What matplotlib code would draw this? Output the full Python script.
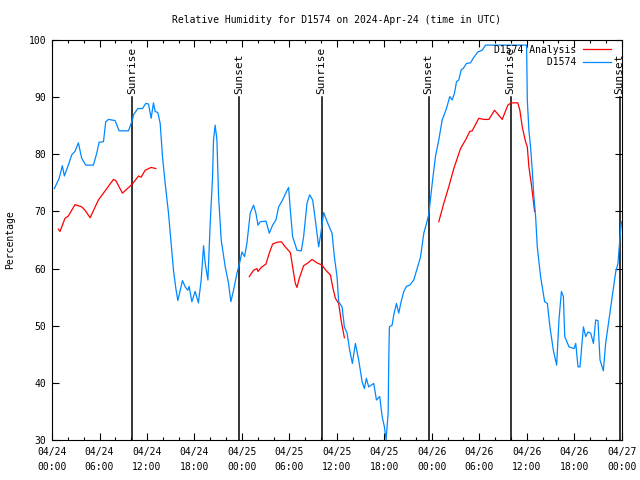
import numpy as np
import matplotlib
matplotlib.use("Agg")
import matplotlib.pyplot as plt

# hours since 2024-04-24 00:00 UTC
obs_hours = [0.3, 0.9, 1.3, 1.56, 2.06, 2.49, 2.9, 3.33, 3.75, 4.26, 5.23, 5.65, 5.95, 6.5,
             6.79, 7.13, 7.97, 8.48, 9.66, 10.16, 10.29, 10.84, 11.43, 11.85, 12.19, 12.53,
             12.82, 13.03, 13.37, 13.67, 13.96, 14.3, 14.72, 15.06, 15.35, 15.65, 15.9, 16.2,
             16.49, 16.83, 17.17, 17.33, 17.67, 18.09, 18.5, 18.85, 19.15, 19.36, 19.7, 19.99,
             20.29, 20.41, 20.62, 20.84, 21.05, 21.38, 21.89, 22.31, 22.6, 22.94, 23.37, 23.7,
             24.0, 24.33, 24.63, 25.05, 25.47, 25.77, 26.03, 26.32, 27.04, 27.46, 27.88, 28.3,
             28.64, 29.14, 29.57, 29.9, 30.12, 30.41, 30.96, 31.51, 31.8, 32.22, 32.56, 32.94,
             33.28, 33.7, 34.0, 34.33, 34.83, 35.39, 35.68, 36.02, 36.23, 36.66, 36.95, 37.29,
             37.62, 37.96, 38.34, 38.76, 39.19, 39.48, 39.73, 40.02, 40.66, 41.0, 41.42, 41.72,
             42.01, 42.22, 42.48, 42.56, 42.64, 42.98, 43.19, 43.53, 43.82, 44.12, 44.46, 44.8,
             45.21, 45.72, 46.15, 46.57, 46.99, 47.33, 47.62, 48.05, 48.46, 48.88, 49.31, 49.85,
             50.27, 50.57, 50.87, 51.12, 51.41, 51.72, 51.97, 52.39, 52.89, 53.23, 53.81, 54.37,
             54.79, 59.98, 60.07, 60.27, 60.48, 60.7, 60.9, 61.12, 61.33, 61.75, 62.26, 62.6,
             62.93, 63.36, 63.78, 64.07, 64.38, 64.63, 64.8, 65.34, 65.98, 66.19, 66.48, 66.73,
             67.16, 67.45, 67.74, 68.08, 68.43, 68.71, 69.0, 69.26, 69.68, 69.97, 70.39, 70.82,
             71.24, 71.53, 71.79, 71.96]
obs_rh = [74.0, 75.8, 78.0, 76.2, 78.1, 79.9, 80.5, 82.0, 79.3, 78.1, 78.1, 80.2, 82.1, 82.2,
          85.7, 86.1, 85.9, 84.1, 84.1, 86.0, 86.9, 88.0, 88.0, 88.9, 88.8, 86.3,
          89.0, 87.5, 87.3, 85.4, 79.6, 74.9, 69.7, 64.4, 59.7, 56.5, 54.4, 56.2,
          57.9, 56.8, 56.2, 56.9, 54.2, 56.0, 54.0, 58.0, 64.0, 60.9, 58.0, 67.9,
          76.1, 82.5, 85.1, 82.5, 72.6, 65.0, 60.3, 57.4, 54.2, 56.2, 59.2, 60.9,
          62.9, 62.1, 64.4, 69.7, 71.1, 69.7, 67.6, 68.2, 68.3, 66.2, 67.6, 68.5,
          70.8, 72.0, 73.3, 74.2, 70.2, 65.6, 63.2, 63.1, 65.6, 71.4, 72.9, 72.0,
          68.5, 63.8, 66.4, 69.8, 68.0, 66.2, 62.1, 58.6, 54.2, 53.3, 49.8, 48.7,
          45.7, 43.4, 46.9, 44.0, 40.2, 39.0, 40.8, 39.3, 39.9, 37.0, 37.6, 34.1,
          32.3, 30.0, 34.7, 44.0, 49.8, 50.1, 51.9, 53.9, 52.2, 54.2, 56.0, 56.9,
          57.1, 58.0, 60.0, 62.0, 66.2, 67.9, 69.5, 74.9, 79.6, 82.5, 86.0, 88.0,
          90.1, 89.5, 90.7, 92.7, 93.0, 94.8, 95.0, 95.9, 96.0, 96.8, 97.9, 98.2,
          99.1, 99.1, 89.5, 84.2, 81.3, 77.2, 72.6, 69.1, 63.8, 58.6, 54.2, 53.9,
          49.8, 45.7, 43.1, 51.0, 56.0, 55.1, 48.1, 46.3, 46.0, 46.9, 42.8, 42.8,
          49.8, 48.1, 48.9, 48.7, 46.9, 51.0, 50.9, 44.0, 42.1, 46.9, 51.0, 55.1,
          59.4, 60.9, 65.6, 68.2]

# analysis series, NaN marks the gaps
ana_hours = [0.8, 1.01, 1.64, 2.06, 2.91, 3.75, 4.18, 4.81, 5.86, 6.92, 7.76, 8.06, 8.9,
             10.16, 10.93, 11.26, 11.77, 12.53, 13.12, 19.0,
             24.93, 25.47, 25.9, 26.03, 26.45, 27.04, 27.46, 27.88, 28.43, 28.98, 29.48,
             30.12, 30.41, 30.75, 30.96, 31.25, 31.8, 32.35, 32.86, 33.49, 34.13, 34.67,
             35.18, 35.47, 35.81, 36.23, 36.53, 36.95, 43.0,
             48.88, 49.51, 50.14, 50.78, 51.63, 52.26, 52.8, 53.1, 53.94, 54.57, 55.21,
             55.93, 56.9, 57.61, 58.04, 58.87, 59.13, 59.43, 59.85, 60.07, 60.27, 60.57,
             60.82, 60.99]
ana_rh = [66.9, 66.5, 68.8, 69.2, 71.2, 70.8, 70.2, 68.9, 72.0, 74.0, 75.6, 75.4, 73.2,
          74.8, 76.2, 76.0, 77.2, 77.7, 77.5, np.nan,
          58.6, 59.7, 60.0, 59.5, 60.2, 60.8, 62.7, 64.3, 64.6, 64.7, 63.8,
          62.8, 60.3, 57.4, 56.7, 58.3, 60.5, 61.0, 61.6, 61.0, 60.6, 59.6,
          58.9, 56.8, 54.8, 53.9, 51.0, 47.9, np.nan,
          68.2, 71.4, 74.3, 77.5, 81.0, 82.5, 84.0, 84.1, 86.3, 86.1, 86.1,
          87.7, 86.1, 88.6, 89.0, 89.0, 87.7, 84.8, 82.2, 81.3, 77.8, 74.9,
          72.0, 70.0]

sun_hours = [10.14, 23.68, 34.07, 47.6, 57.95, 71.75]
sun_labels = ["Sunrise", "Sunset", "Sunrise", "Sunset", "Sunrise", "Sunset"]

tick_hours = list(range(0, 73, 6))
tick_labels = ["04/24\n00:00", "04/24\n06:00", "04/24\n12:00", "04/24\n18:00",
               "04/25\n00:00", "04/25\n06:00", "04/25\n12:00", "04/25\n18:00",
               "04/26\n00:00", "04/26\n06:00", "04/26\n12:00", "04/26\n18:00",
               "04/27\n00:00"]

plt.rcParams['font.family'] = ['DejaVu Sans Mono']
plt.rcParams['font.size'] = 7

fig = plt.figure(figsize=(6.4, 4.8), dpi=100)
ax = fig.add_axes([0.0813, 0.0833, 0.8901, 0.8334])

# sunrise / sunset markers
for h, lab in zip(sun_hours, sun_labels):
    ax.plot([h, h], [30, 90], color="black", lw=1.1)
    ax.text(h, 90.6, lab, rotation=90, ha="center", va="bottom", fontsize=8)

ax.plot(ana_hours, ana_rh, color="#ff0000", lw=0.9, label="D1574 Analysis")
ax.plot(obs_hours, obs_rh, color="#0088ff", lw=0.9, label="         D1574")

ax.set_xlim(0, 72)
ax.set_ylim(30, 100)
ax.set_xticks(tick_hours)
ax.set_xticklabels(tick_labels, linespacing=1.6)
ax.set_xticks(range(0, 73, 2), minor=True)
ax.set_yticks(range(30, 101, 10))
ax.tick_params(which="both", direction="in", top=True, right=True)
ax.tick_params(which="major", length=5, width=0.8)
ax.tick_params(which="minor", length=2.5, width=0.8)
ax.tick_params(axis="x", pad=5)
ax.tick_params(axis="y", pad=4)

ax.set_title("Relative Humidity for D1574 on 2024-Apr-24 (time in UTC)", fontsize=7, pad=12)
ax.set_ylabel("Percentage", labelpad=10)

leg = ax.legend(loc="upper right", bbox_to_anchor=(0.9895, 1.0), markerfirst=False,
                frameon=False, handlelength=2.9, borderaxespad=0.1, labelspacing=0.25,
                handletextpad=0.7, fontsize=7)

plt.savefig("out.png", dpi=100)
